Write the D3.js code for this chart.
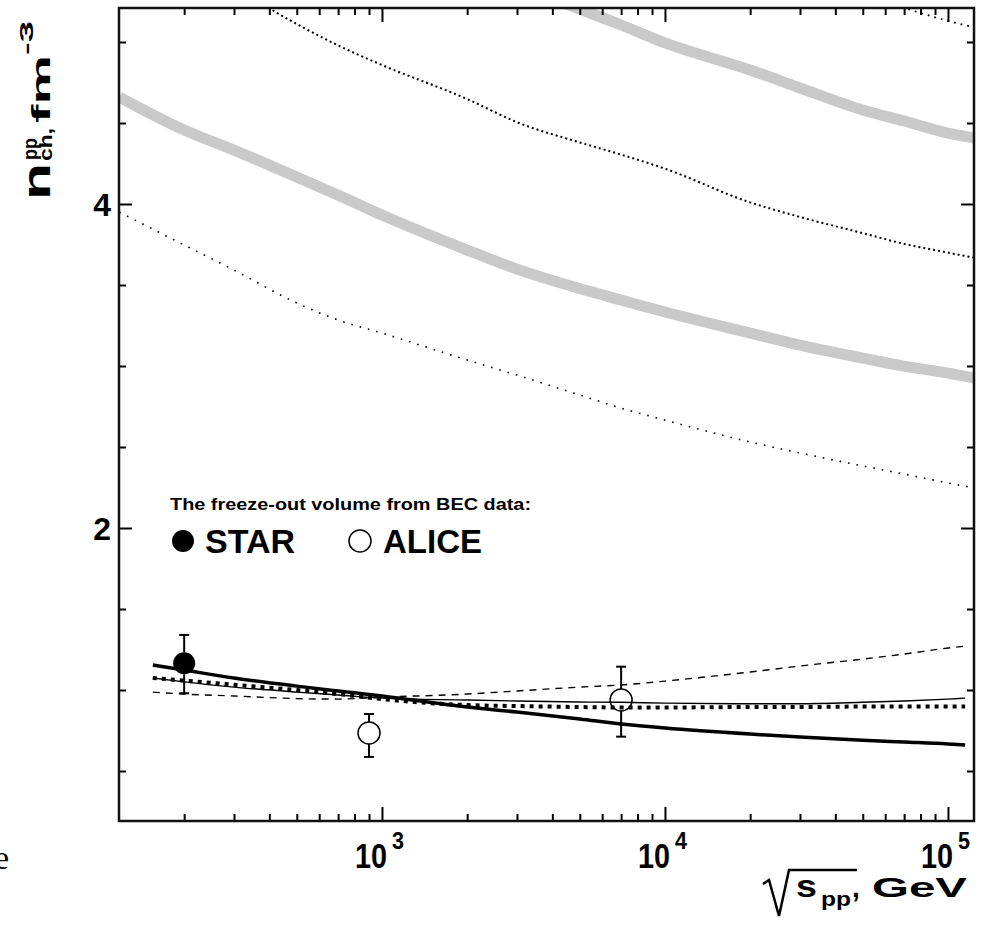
<!DOCTYPE html>
<html>
<head>
<meta charset="utf-8">
<script src="https://cdn.jsdelivr.net/npm/d3@7"></script>
<style>
  body { margin: 0; background: #fff; }
  text { font-family: "Liberation Sans", Arial, sans-serif; font-weight: bold; fill: #000; }
</style>
</head>
<body>
<div id="chart"></div>
<script>
// lower curves (fits to the BEC data), energy in GeV
var fitE = [155, 200, 300, 500, 700, 1000, 2000, 3000, 5000, 7000, 10000, 20000, 30000, 50000, 70000, 100000, 115000];
var fitThickSolid = [1.154, 1.123, 1.074, 1.024, 0.994, 0.963, 0.895, 0.864, 0.821, 0.790, 0.765, 0.728, 0.710, 0.690, 0.679, 0.667, 0.660];
var fitThickDot = [1.074, 1.058, 1.032, 1.000, 0.975, 0.944, 0.907, 0.901, 0.895, 0.892, 0.892, 0.895, 0.895, 0.898, 0.898, 0.898, 0.898];
var fitThinSolid = [1.074, 1.050, 1.018, 0.987, 0.969, 0.950, 0.938, 0.932, 0.926, 0.924, 0.919, 0.915, 0.915, 0.924, 0.932, 0.944, 0.950];
var fitThinDash = [0.987, 0.975, 0.963, 0.947, 0.944, 0.956, 0.975, 0.994, 1.018, 1.031, 1.055, 1.111, 1.148, 1.191, 1.222, 1.259, 1.271];

// upper curves
var bandE = [118, 200, 300, 500, 700, 1000, 2000, 3000, 5000, 7000, 10000, 20000, 30000, 50000, 70000, 100000, 124000];
var grayLow = [4.660, 4.457, 4.333, 4.166, 4.055, 3.932, 3.716, 3.598, 3.478, 3.407, 3.333, 3.203, 3.129, 3.049, 2.999, 2.956, 2.925];
var dotLow = [3.950, 3.747, 3.592, 3.389, 3.284, 3.203, 3.037, 2.944, 2.821, 2.740, 2.666, 2.531, 2.463, 2.383, 2.333, 2.278, 2.247];
var dotMidE = [300, 500, 700, 1000, 2000, 3000, 5000, 7000, 10000, 20000, 30000, 50000, 70000, 100000, 124000];
var dotMid = [5.34, 5.111, 4.979, 4.858, 4.648, 4.505, 4.380, 4.305, 4.218, 4.010, 3.920, 3.820, 3.754, 3.700, 3.668];
var grayUpE = [3000, 5000, 7000, 10000, 20000, 30000, 50000, 70000, 100000, 124000];
var grayUp = [5.35, 5.203, 5.105, 4.994, 4.827, 4.716, 4.580, 4.512, 4.438, 4.407];
var dotTopE = [50000, 70000, 100000, 124000];
var dotTop = [5.29, 5.21, 5.13, 5.09];

// data points
var starE = [200];
var starV = [1.165];
var starUp = [0.175];
var starDn = [0.185];
var aliceE = [900, 7000];
var aliceV = [0.735, 0.938];
var aliceUp = [0.117, 0.206];
var aliceDn = [0.148, 0.226];

// axis ticks
var xMajor = [1000, 10000, 100000];
var xMajorExp = ["3", "4", "5"];
var xMinor = [200, 300, 400, 500, 600, 700, 800, 900, 2000, 3000, 4000, 5000, 6000, 7000, 8000, 9000,
              20000, 30000, 40000, 50000, 60000, 70000, 80000, 90000];
var yMajor = [2, 4];
var yMinor = [0.5, 1, 1.5, 2.5, 3, 3.5, 4.5, 5];

main();

function main(){
    var W = 981, H = 928;
    var left = 119, right = 974, top = 8, bottom = 821;
    var markR = 11;

    var svg = d3.select("#chart").append("svg")
        .attr("width", W).attr("height", H);

    var x = d3.scaleLog().domain([117.7, 123600]).range([left, right]);
    var y = d3.scaleLinear().domain([0.1914, 5.2099]).range([bottom, top]);

    svg.append("clipPath").attr("id", "clip")
        .append("rect").attr("x", left).attr("y", top)
        .attr("width", right - left).attr("height", bottom - top);

    var plot = svg.append("g").attr("clip-path", "url(#clip)");

    function drawCurve(es, vs, width, color, dash){
        var pts = es.map(function(e, i){ return [e, vs[i]]; });
        var line = d3.line()
            .x(function(d){ return x(d[0]); })
            .y(function(d){ return y(d[1]); })
            .curve(d3.curveMonotoneX);
        var p = plot.append("path").datum(pts)
            .attr("d", line)
            .attr("fill", "none")
            .attr("stroke", color)
            .attr("stroke-width", width);
        if (dash) p.attr("stroke-dasharray", dash);
    }

    // gray bands
    drawCurve(bandE, grayLow, 11, "#c9c9c9");
    drawCurve(grayUpE, grayUp, 11, "#c9c9c9");
    // dotted bounds
    drawCurve(bandE, dotLow, 1.6, "#000", "1.6,7");
    drawCurve(dotMidE, dotMid, 2, "#000", "2,3");
    drawCurve(dotTopE, dotTop, 1.8, "#000", "1.8,5");

    // lower fits
    drawCurve(fitE, fitThinDash, 1.4, "#000", "7,6");
    drawCurve(fitE, fitThinSolid, 1.4, "#000");
    drawCurve(fitE, fitThickDot, 4, "#000", "4,5");
    drawCurve(fitE, fitThickSolid, 3.5, "#000");

    // error bars, stopping at the marker edge
    function errBars(es, vs, up, dn){
        es.forEach(function(e, i){
            var cx = x(e), cy = y(vs[i]);
            var y1 = y(vs[i] + up[i]), y2 = y(vs[i] - dn[i]);
            [[y1, cy - markR], [cy + markR, y2]].forEach(function(s){
                plot.append("line").attr("x1", cx).attr("x2", cx).attr("y1", s[0]).attr("y2", s[1])
                    .attr("stroke", "#000").attr("stroke-width", 2);
            });
            [y1, y2].forEach(function(yy){
                plot.append("line").attr("x1", cx - 5).attr("x2", cx + 5).attr("y1", yy).attr("y2", yy)
                    .attr("stroke", "#000").attr("stroke-width", 2);
            });
        });
    }
    errBars(starE, starV, starUp, starDn);
    errBars(aliceE, aliceV, aliceUp, aliceDn);

    plot.selectAll(".star").data(starE).enter().append("circle")
        .attr("cx", function(d){ return x(d); })
        .attr("cy", function(d, i){ return y(starV[i]); })
        .attr("r", markR).attr("fill", "#000");

    plot.selectAll(".alice").data(aliceE).enter().append("circle")
        .attr("cx", function(d){ return x(d); })
        .attr("cy", function(d, i){ return y(aliceV[i]); })
        .attr("r", markR).attr("fill", "none").attr("stroke", "#000").attr("stroke-width", 1.5);

    // axes (ticks on all four sides, pointing in)
    function axisG(axis, tx, ty){
        var g = svg.append("g").attr("transform", "translate(" + tx + "," + ty + ")").call(axis);
        g.select(".domain").remove();
        g.selectAll("line").attr("stroke", "#000").attr("stroke-width", 2);
        g.selectAll("text").remove();
        return g;
    }
    axisG(d3.axisBottom(x).tickValues(xMinor).tickSize(-7), 0, bottom);
    axisG(d3.axisBottom(x).tickValues(xMajor).tickSize(-14), 0, bottom);
    axisG(d3.axisTop(x).tickValues(xMinor).tickSize(-7), 0, top);
    axisG(d3.axisTop(x).tickValues(xMajor).tickSize(-14), 0, top);
    axisG(d3.axisLeft(y).tickValues(yMinor).tickSize(-7), left, 0);
    axisG(d3.axisLeft(y).tickValues(yMajor).tickSize(-13), left, 0);
    axisG(d3.axisRight(y).tickValues(yMinor).tickSize(-7), right, 0);
    axisG(d3.axisRight(y).tickValues(yMajor).tickSize(-13), right, 0);

    svg.append("rect").attr("x", left).attr("y", top)
        .attr("width", right - left).attr("height", bottom - top)
        .attr("fill", "none").attr("stroke", "#111").attr("stroke-width", 2.5);

    // x tick labels 10^n
    xMajor.forEach(function(v, i){
        var px = x(v);
        svg.append("text").attr("x", px - 27).attr("y", 868)
            .attr("font-size", 35).attr("textLength", 32).attr("lengthAdjust", "spacingAndGlyphs")
            .text("10");
        svg.append("text").attr("x", px + 10).attr("y", 849)
            .attr("font-size", 24).attr("textLength", 12).attr("lengthAdjust", "spacingAndGlyphs")
            .text(xMajorExp[i]);
    });

    // y tick labels
    yMajor.forEach(function(v){
        svg.append("text").attr("x", 111).attr("y", y(v) + 12)
            .attr("text-anchor", "end").attr("font-size", 32)
            .text(v);
    });

    // x title: sqrt(s_pp), GeV
    svg.append("path").attr("d", "M763,884 L769,880 L779,916 L789,870 L857,870")
        .attr("fill", "none").attr("stroke", "#000").attr("stroke-width", 2.5);
    svg.append("text").attr("x", 796).attr("y", 897)
        .attr("font-size", 31).attr("textLength", 21).attr("lengthAdjust", "spacingAndGlyphs").text("s");
    svg.append("text").attr("x", 821).attr("y", 906)
        .attr("font-size", 21).attr("textLength", 30).attr("lengthAdjust", "spacingAndGlyphs").text("pp");
    svg.append("text").attr("x", 852).attr("y", 897)
        .attr("font-size", 28).text(",");
    svg.append("text").attr("x", 872).attr("y", 897)
        .attr("font-size", 28).attr("textLength", 95).attr("lengthAdjust", "spacingAndGlyphs").text("GeV");

    // y title: n^pp_ch, fm^-3 (rotated)
    var yt = svg.append("g").attr("transform", "translate(50,205) rotate(-90)");
    yt.append("text").attr("x", 5).attr("y", 0)
        .attr("font-size", 38).attr("textLength", 37).attr("lengthAdjust", "spacingAndGlyphs").text("n");
    yt.append("text").attr("x", 45).attr("y", -13)
        .attr("font-size", 20).attr("textLength", 22).attr("lengthAdjust", "spacingAndGlyphs").text("pp");
    yt.append("text").attr("x", 44).attr("y", 2)
        .attr("font-size", 18).attr("textLength", 33).attr("lengthAdjust", "spacingAndGlyphs").text("ch,");
    yt.append("text").attr("x", 82).attr("y", 0)
        .attr("font-size", 26).attr("textLength", 68).attr("lengthAdjust", "spacingAndGlyphs").text("fm");
    yt.append("text").attr("x", 150).attr("y", -17)
        .attr("font-size", 19).attr("textLength", 34).attr("lengthAdjust", "spacingAndGlyphs").text("-3");

    // legend
    svg.append("text").attr("x", 170).attr("y", 510)
        .attr("font-size", 17).attr("textLength", 361).attr("lengthAdjust", "spacingAndGlyphs")
        .text("The freeze-out volume from BEC data:");
    svg.append("circle").attr("cx", 183).attr("cy", 541).attr("r", markR).attr("fill", "#000");
    svg.append("text").attr("x", 205).attr("y", 553)
        .attr("font-size", 34).attr("textLength", 90).attr("lengthAdjust", "spacingAndGlyphs").text("STAR");
    svg.append("circle").attr("cx", 360).attr("cy", 541).attr("r", markR)
        .attr("fill", "none").attr("stroke", "#000").attr("stroke-width", 1.5);
    svg.append("text").attr("x", 383).attr("y", 553)
        .attr("font-size", 34).attr("textLength", 99).attr("lengthAdjust", "spacingAndGlyphs").text("ALICE");

    // stray letter from neighbouring text at the left edge (cut off in the original too)
    svg.append("text").attr("x", 9).attr("y", 869).attr("text-anchor", "end")
        .style("font-family", "'Liberation Serif', serif").style("font-weight", "normal")
        .attr("font-size", 34).text("e");
}
</script>
</body>
</html>
